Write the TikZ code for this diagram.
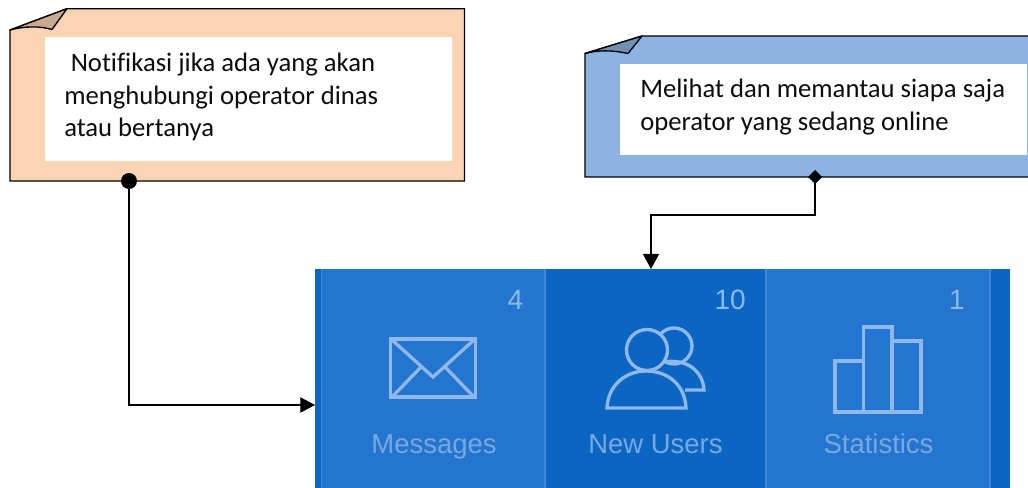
\documentclass[tikz,border=0pt]{standalone}
\usepackage{fontspec}
\setmainfont{Carlito}[Ligatures=NoCommon]
\setsansfont{Liberation Sans}
\usetikzlibrary{arrows.meta,calc}
\definecolor{peach}{HTML}{FBD4B4}
\definecolor{peachfold}{HTML}{C9AA90}
\definecolor{skyb}{HTML}{8DB3E2}
\definecolor{skyfold}{HTML}{7190B5}
\definecolor{tiledark}{HTML}{0A66C2}
\definecolor{tilelight}{HTML}{2375CF}
\definecolor{tileline}{HTML}{3F86D5}
\definecolor{iconc}{HTML}{8DB8E8}
\definecolor{labelc}{HTML}{78A8E0}
\tikzset{
 x=0.75pt,y=-0.75pt,
 note/.style={draw=black,line width=1pt,line join=miter},
 fold/.style={draw=black,line width=1pt,line join=round},
 textbox/.style={fill=white,inner sep=0pt,outer sep=0pt,anchor=north west},
 notetext/.style={font=\fontsize{20pt}{25pt}\selectfont,anchor=base west,inner sep=0pt,text=black!95},
 conn/.style={draw=black,line width=0.9pt},
 icon/.style={draw=iconc,line width=2.5pt,line join=miter},
 tilelabel/.style={font=\fontsize{20.6pt}{22pt}\selectfont\sffamily,text=labelc,inner sep=0pt,anchor=base},
 tilenum/.style={font=\fontsize{21pt}{22pt}\selectfont\sffamily,text=iconc,inner sep=0pt,anchor=base east},
}
\begin{document}
\begin{tikzpicture}
\useasboundingbox (0,0) rectangle (1028,488);
% left note
\draw[note,fill=peach] (10,30) -- (67,8.7) -- (464.5,8.7) -- (464.5,181) -- (10,181) -- cycle;
\draw[fold,fill=peachfold] (10,30) -- (67,8.7) -- (52,29.5) .. controls (40,26) and (25,26) .. (10,30) -- cycle;
\node[textbox,minimum width=305.25pt,minimum height=93pt] (leftbox) at (45,37) {};
\node[notetext] (l1) at (70.5,72) {Notifikasi jika ada yang akan};
\node[notetext] (l2) at (64,104.5) {menghubungi operator dinas};
\node[notetext] (l3) at (64,137) {atau bertanya};
% right note
\fill[skyb] (585,53.5) -- (642,36) -- (1028,36) -- (1028,177) -- (585,177) -- cycle;
\draw[note] (1028,36) -- (642,36) -- (585,53.5) -- (585,177) -- (1028,177);
\draw[fold,fill=skyfold] (585,53.5) -- (642,36) -- (628,53.5) .. controls (612,50) and (598,50) .. (585,53.5) -- cycle;
\node[textbox,minimum width=305.25pt,minimum height=68.25pt] (rightbox) at (620,64) {};
\node[notetext] (r1) at (640,98) {Melihat dan memantau siapa saja};
\node[notetext] (r2) at (640,131) {operator yang sedang online};
% tiles
\fill[tiledark] (315,269) rectangle (1010,488);
\fill[tilelight] (321,269) rectangle (545,488);
\fill[tilelight] (766,269) rectangle (990,488);
\draw[tileline,line width=1.2pt] (321.5,269) -- (321.5,488) (545,269) -- (545,488) (766,269) -- (766,488) (990,269) -- (990,488);
% envelope
\draw[icon] (390.5,339) rectangle (475.5,397);
\draw[icon] (391,339) -- (433,377) -- (475,339) (392,397) -- (421,367) (474,397) -- (445,367);
% users
\draw[icon] (674,346) circle[radius=18];
\draw[icon] (663,362) .. controls (688,358) and (703,372) .. (704,390) -- (685,390);
\draw[icon,fill=tiledark] (607,408) .. controls (608,385) and (626,371) .. (646,371) .. controls (668,371) and (685,385) .. (686,408) -- cycle;
\draw[icon,fill=tiledark] (647,350) circle[radius=20.5];
% bars
\draw[icon] (835,412) rectangle (863.5,361);
\draw[icon] (863.5,412) rectangle (892,327);
\draw[icon] (892,412) rectangle (921,341);
\node[tilelabel] (m) at (434,453) {Messages};
\node[tilelabel] (n) at (655.5,453) {New Users};
\node[tilelabel] (s) at (878.5,453) {Statistics};
\node[tilenum] (n4) at (523.5,310) {4};
\node[tilenum] (n10) at (746,310) {10};
\node[tilenum] (n1) at (965,310) {1};
% connectors
\coordinate (a1) at (129,181);
\coordinate (a2) at (315,405);
\coordinate (b1) at (815,177);
\coordinate (bm) at (651,215);
\coordinate (b2) at (651,269);
\draw[conn,-{Triangle[length=11pt,width=11.5pt]}] (a1) |- (a2);
\fill (a1) circle[radius=8];
\draw[conn,-{Triangle[length=11.25pt,width=12pt]}] (b1) |- (bm) -- (b2);
\fill (b1) ++(-7,0) -- ++(7,-7) -- ++(7,7) -- ++(-7,7) -- cycle;
\end{tikzpicture}
\end{document}
